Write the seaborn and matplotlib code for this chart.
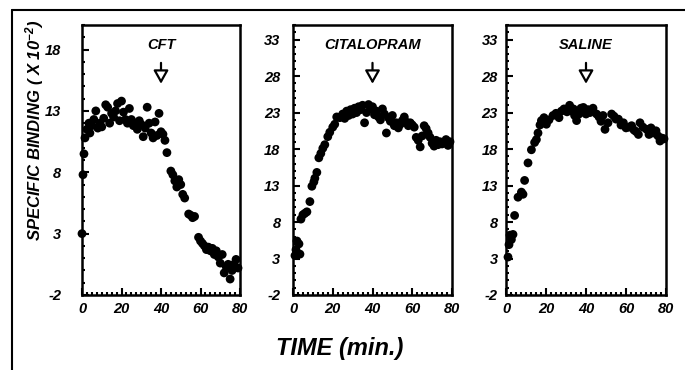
import matplotlib
matplotlib.use("Agg")
import matplotlib.pyplot as plt
from matplotlib.lines import Line2D
from matplotlib.ticker import MultipleLocator
import pandas as pd
import seaborn as sns

# Daten (Zeit in min, spezifische Bindung x 10^-2)
cft_time = [0, 0.5, 1, 1.5, 2.5, 3.5, 4, 5, 6, 7, 8, 9, 10, 11, 12, 13, 14, 15, 16, 17,
            18, 19, 20, 21, 22, 23, 24, 25, 26, 27, 28, 29, 30, 31, 32, 33, 34, 35, 36, 37,
            38, 39, 40, 41, 42, 43, 45, 46, 47, 48, 49, 50, 51, 52, 54, 55, 56, 57, 59, 60,
            61, 62, 63, 64, 65, 66, 67, 68, 69, 70, 71, 72, 73, 74, 75, 76, 77, 78, 79]
cft_value = [3.0, 7.8, 9.5, 10.8, 11.5, 12.0, 11.2, 11.8, 12.3, 13.0, 11.6, 12.0, 11.7, 12.4,
             13.5, 13.3, 12.0, 12.8, 12.5, 13.0, 13.6, 12.2, 13.8, 12.9, 12.3, 12.0, 13.2, 12.3,
             11.8, 12.0, 11.5, 12.2, 11.9, 10.9, 11.6, 13.3, 12.0, 11.2, 10.8, 12.1, 11.0, 12.8,
             11.3, 11.1, 10.6, 9.6, 8.1, 7.8, 7.3, 6.8, 7.4, 7.0, 6.2, 5.9, 4.6, 4.5, 4.3, 4.4,
             2.7, 2.4, 2.2, 2.0, 1.7, 1.9, 1.6, 1.8, 1.3, 1.6, 1.1, 0.6, 1.3, -0.2, 0.3, 0.5,
             -0.7, 0.0, 0.5, 0.9, 0.2]

cit_time = [1, 1.5, 2, 3, 3.5, 4, 5, 6, 7, 8.5, 9.5, 10.5, 11, 12, 13, 14, 15, 16, 17.5, 18.5,
            20, 21, 22, 23.5, 25, 26, 27, 28, 29, 30, 31, 32, 33, 34, 35, 36, 37, 38, 39, 40,
            41, 42, 43, 44, 45, 46, 47, 48, 49, 50, 51, 52, 53, 54, 55, 56, 57, 58, 59, 60,
            61, 62, 63, 64, 65, 66, 67, 68, 69, 70, 71, 72, 73, 74, 75, 76, 77, 78, 79]
cit_value = [3.4, 4.2, 5.4, 5.0, 3.6, 8.4, 9.0, 9.2, 9.4, 10.8, 12.9, 13.5, 14.0, 14.8, 16.8,
             17.4, 18.1, 18.6, 19.7, 20.3, 21.0, 21.4, 22.4, 22.3, 22.8, 22.2, 23.2, 22.6, 23.4,
             22.8, 23.6, 23.0, 23.8, 23.4, 24.0, 21.6, 23.0, 24.1, 23.5, 23.8, 22.7, 23.2, 22.4,
             22.0, 23.5, 22.8, 20.2, 22.3, 21.8, 22.6, 21.2, 21.6, 20.9, 21.4, 21.9, 22.4, 21.7,
             21.2, 21.6, 21.3, 21.0, 19.6, 19.2, 18.3, 19.8, 21.2, 20.8, 20.2, 19.6, 18.8, 18.4,
             19.2, 18.6, 19.0, 18.7, 18.9, 19.3, 18.5, 19.0]

sal_time = [1, 1.5, 2, 2.7, 3.5, 4.3, 6, 7.7, 8.5, 9.3, 11, 12.7, 14.3, 15.2, 16, 17, 17.7,
            19, 20.2, 21.5, 23.5, 25, 26.5, 27.7, 29, 30.5, 31.8, 33, 33.7, 34.3, 35.3, 36.5,
            37.5, 38.7, 40, 41, 42, 43.5, 45.3, 46.5, 47.5, 48.5, 49.5, 51, 52.8, 54, 55, 56.2,
            57.5, 58.7, 60, 61.5, 62.8, 64, 65, 66.2, 67, 68.5, 70.3, 71.5, 72.5, 73.7, 75,
            76, 77, 78, 79]
sal_value = [3.2, 4.9, 6.2, 5.6, 6.3, 8.9, 11.4, 12.1, 11.8, 13.7, 16.1, 17.9, 18.9, 19.3,
             20.2, 21.3, 21.9, 22.3, 21.4, 22.0, 22.6, 22.9, 22.3, 23.2, 23.5, 23.1, 24.0, 23.2,
             23.5, 22.6, 21.9, 22.8, 23.6, 23.7, 22.8, 23.4, 23.0, 23.6, 22.8, 22.4, 21.8, 22.6,
             20.7, 21.6, 22.8, 22.5, 22.1, 22.1, 21.3, 21.6, 20.9, 21.0, 21.2, 20.6, 20.4, 20.0,
             21.6, 21.0, 20.7, 20.0, 20.9, 20.2, 20.5, 19.8, 19.1, 19.5, 19.4]

panel_names = ["CFT", "CITALOPRAM", "SALINE"]
panel_times = [cft_time, cit_time, sal_time]
panel_values = [cft_value, cit_value, sal_value]
y_limits = [(-2, 20), (-2, 35), (-2, 35)]
y_ticks = [[-2, 3, 8, 13, 18], [-2, 3, 8, 13, 18, 23, 28, 33], [-2, 3, 8, 13, 18, 23, 28, 33]]
x_ticks = [0, 20, 40, 60, 80]
arrow_time = 40

sns.set_style("ticks", {"axes.edgecolor": "black", "text.color": "black",
                        "xtick.color": "black", "ytick.color": "black",
                        "axes.labelcolor": "black"})
plt.rcParams["font.family"] = ["Liberation Sans", "DejaVu Sans"]
plt.rcParams["font.weight"] = "bold"
plt.rcParams["font.style"] = "italic"
plt.rcParams["axes.unicode_minus"] = False
plt.rcParams["mathtext.fontset"] = "custom"
plt.rcParams["mathtext.rm"] = "Liberation Sans:bold:italic"
plt.rcParams["mathtext.it"] = "Liberation Sans:bold:italic"
plt.rcParams["mathtext.default"] = "rm"

fig = plt.figure(figsize=(6.85, 3.7), dpi=100)

# Positionen der drei Achsen in Pixeln (links, rechts)
ax_px = [(82, 240), (293, 452), (506, 666)]
y_pads = [15, 9, 6]

for i in range(3):
    left, right = ax_px[i]
    ax = fig.add_axes([left / 685, 75 / 370, (right - left) / 685, 270 / 370])
    df = pd.DataFrame({"time": panel_times[i], "binding": panel_values[i]})
    sns.scatterplot(data=df, x="time", y="binding", ax=ax, color="black",
                    edgecolor="none", s=40, legend=False, clip_on=False)
    ax.set_xlim(0, 80)
    ax.set_ylim(*y_limits[i])
    ax.set_xticks(x_ticks)
    ax.set_yticks(y_ticks[i])
    ax.xaxis.set_minor_locator(MultipleLocator(2.5))
    ax.yaxis.set_minor_locator(MultipleLocator(1))
    ax.tick_params(which="both", direction="in", width=1.5, labelsize=10.5,
                   color="black", labelcolor="black")
    ax.tick_params(which="major", length=5)
    ax.tick_params(which="minor", length=2.5)
    ax.tick_params(axis="y", pad=y_pads[i])
    ax.tick_params(axis="x", pad=5)
    for sp in ax.spines.values():
        sp.set_linewidth(1.8)
        sp.set_color("black")
    ax.set_xlabel("")
    ax.set_ylabel("")
    ax.text(arrow_time, 0.925, panel_names[i], transform=ax.get_xaxis_transform(),
            ha="center", va="center", fontsize=10.5, color="black")
    ax.annotate("", xy=(arrow_time, 0.772), xytext=(arrow_time, 0.87),
                xycoords=("data", "axes fraction"), textcoords=("data", "axes fraction"),
                arrowprops=dict(arrowstyle="-|>,head_length=0.8,head_width=0.45",
                                facecolor="white", edgecolor="black", lw=1.6))

fig.text(35 / 685, 1 - 130 / 370, "SPECIFIC BINDING ( X 10$^{-2}$)", rotation=90,
         ha="center", va="center", fontsize=12, color="black")
fig.text(340 / 685, 1 - 349 / 370, "TIME (min.)", ha="center", va="center",
         fontsize=17, color="black")

# Rahmen um die Abbildung (oben und links)
fig.add_artist(Line2D([12 / 685, 12 / 685], [0, 1 - 10 / 370], color="black", lw=1.5))
fig.add_artist(Line2D([12 / 685, 1], [1 - 10 / 370, 1 - 10 / 370], color="black", lw=1.5))

fig.savefig("out.png", dpi=100)
